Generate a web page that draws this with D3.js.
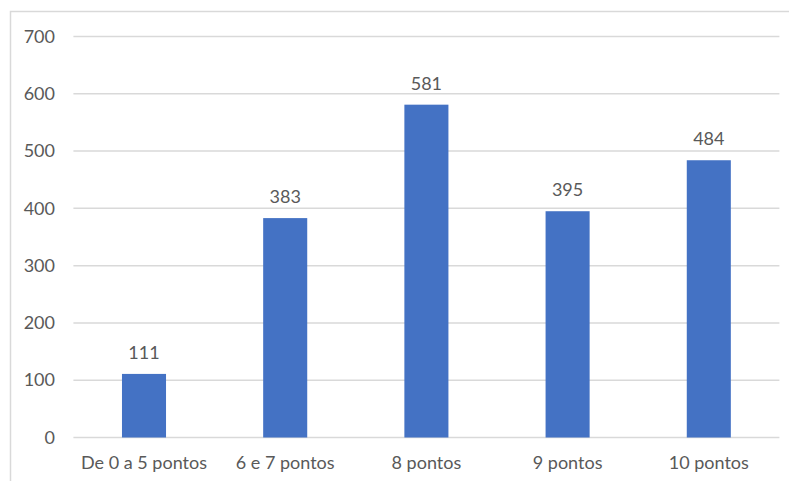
<!DOCTYPE html>
<html>
<head>
<meta charset="utf-8">
<script src="https://cdn.jsdelivr.net/npm/d3@7"></script>
<style>
  html, body { margin: 0; padding: 0; background: #fff; }
  svg { display: block; }
  text { font-family: Lato, "Open Sans", sans-serif; fill: #595959; }
</style>
</head>
<body>
<svg id="chart" width="789" height="481"></svg>
<script>
// Chart data
const categories = ["De 0 a 5 pontos", "6 e 7 pontos", "8 pontos", "9 pontos", "10 pontos"];
const values = [111, 383, 581, 395, 484];
const yTicks = [0, 100, 200, 300, 400, 500, 600, 700];

const svg = d3.select("#chart");
const W = 789, H = 481;
const plot = { left: 73.4, right: 779.4, top: 36.5, bottom: 437.5 };
const FONT = "Lato, 'Open Sans', sans-serif";
const FS = 18;

// Chart frame (top and left edges visible)
svg.append("rect")
  .attr("x", 10.5).attr("y", 11.5)
  .attr("width", W + 20).attr("height", H + 20)
  .attr("fill", "none").attr("stroke", "#d9d9d9").attr("stroke-width", 1.5);

const x = d3.scaleBand()
  .domain(categories)
  .range([plot.left, plot.right])
  .paddingInner(0.688)
  .paddingOuter(0.344);

const y = d3.scaleLinear().domain([0, 700]).range([plot.bottom, plot.top]);

// Horizontal gridlines
svg.append("g")
  .selectAll("line")
  .data(yTicks)
  .join("line")
  .attr("x1", plot.left).attr("x2", plot.right)
  .attr("y1", d => y(d)).attr("y2", d => y(d))
  .attr("stroke", "#d9d9d9").attr("stroke-width", 1.5);

// Y axis labels
const yAxis = d3.axisLeft(y).tickValues(yTicks).tickSize(0).tickPadding(0);
const gy = svg.append("g").attr("transform", "translate(55,0)").call(yAxis);
gy.select(".domain").remove();
gy.selectAll("text")
  .attr("font-size", FS)
  .style("font-family", FONT)
  .attr("fill", "#595959");

// X axis labels
const xAxis = d3.axisBottom(x).tickSize(0).tickPadding(0);
const gx = svg.append("g").attr("transform", `translate(0,${plot.bottom + 19})`).call(xAxis);
gx.select(".domain").remove();
gx.selectAll("text")
  .attr("font-size", FS)
  .style("font-family", FONT)
  .attr("fill", "#595959");

// Bars
svg.append("g")
  .selectAll("rect")
  .data(values)
  .join("rect")
  .attr("x", (d, i) => x(categories[i]))
  .attr("width", x.bandwidth())
  .attr("y", d => y(d))
  .attr("height", d => y(0) - y(d))
  .attr("fill", "#4472c4");

// Value labels
svg.append("g")
  .selectAll("text")
  .data(values)
  .join("text")
  .attr("x", (d, i) => x(categories[i]) + x.bandwidth() / 2)
  .attr("y", d => y(d) - 22)
  .attr("text-anchor", "middle")
  .attr("dominant-baseline", "central")
  .attr("font-size", FS)
  .text(d => d);
</script>
</body>
</html>
